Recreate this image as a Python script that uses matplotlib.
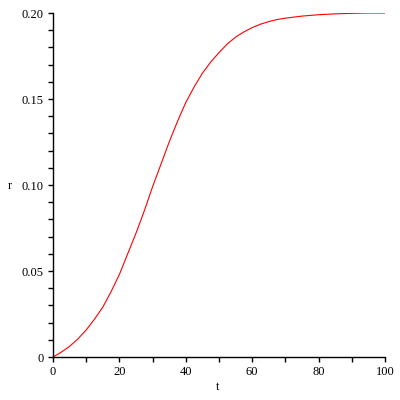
import matplotlib
matplotlib.use('Agg')
import matplotlib.pyplot as plt
from matplotlib.ticker import MultipleLocator, FixedLocator

# values
t = [0, 2.5, 5, 7.5, 10, 12.5, 15, 17.5, 20, 22.5, 25, 27.5, 30, 32.5, 35, 37.5,
     40, 42.5, 45, 47.5, 50, 52.5, 55, 57.5, 60, 62.5, 65, 67.5, 70, 75, 80, 85,
     90, 95, 100]
r = [0.0, 0.0028, 0.0062, 0.0105, 0.0157, 0.022, 0.029, 0.038, 0.048, 0.060,
     0.072, 0.085, 0.099, 0.112, 0.125, 0.137, 0.148, 0.157, 0.165, 0.1715,
     0.177, 0.182, 0.186, 0.189, 0.1915, 0.1935, 0.195, 0.1962, 0.197, 0.1982,
     0.199, 0.1995, 0.1998, 0.2, 0.2]

xticks = [0, 20, 40, 60, 80, 100]
yticks = [0, 0.05, 0.10, 0.15, 0.20]
ylabels = ['0', '0.05', '0.10', '0.15', '0.20']

plt.rcParams['font.family'] = ['Liberation Serif', 'DejaVu Serif']

fig = plt.figure(figsize=(4, 4), dpi=100)
ax = fig.add_axes([0.1325, 0.1075, 0.83, 0.86])
ax.plot(t, r, color='red', linewidth=0.8)

ax.set_xlim(0, 100)
ax.set_ylim(0, 0.2)
ax.spines['top'].set_visible(False)
ax.spines['right'].set_visible(False)
for s in ['left', 'bottom']:
    ax.spines[s].set_linewidth(1.0)

ax.xaxis.set_major_locator(FixedLocator(xticks))
ax.xaxis.set_minor_locator(MultipleLocator(10))
ax.yaxis.set_major_locator(FixedLocator(yticks))
ax.yaxis.set_minor_locator(MultipleLocator(0.01))
ax.set_xticklabels([str(v) for v in xticks])
ax.set_yticklabels(ylabels)
ax.tick_params(which='both', direction='out', length=3.5, width=1, labelsize=9, pad=3)

fig.text(10 / 400, 1 - 186 / 400, 'r', fontsize=9, ha='center', va='center')
fig.text(218 / 400, 1 - 387 / 400, 't', fontsize=9, ha='center', va='center')

fig.savefig('out.png', dpi=100)
